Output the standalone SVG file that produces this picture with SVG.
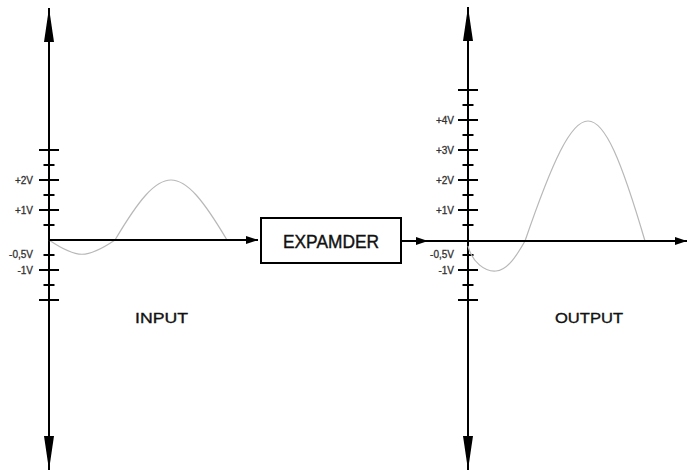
<svg xmlns="http://www.w3.org/2000/svg" width="688" height="470" viewBox="0 0 688 470">
<style>
.axis{stroke:#000;stroke-width:2;fill:none}
.tick{stroke:#000;stroke-width:2}
.wave{stroke:#b8b8b8;stroke-width:1.2;fill:none}
.lbl{font-family:"Liberation Sans",Arial,sans-serif;font-size:10px;fill:#333;stroke:#333;stroke-width:0.3;text-anchor:end}
.title{font-family:"Liberation Sans",Arial,sans-serif;font-size:15px;fill:#111;stroke:#111;stroke-width:0.35;text-anchor:middle}
</style>
<defs>
<marker id="va" viewBox="0 -5.5 34 11" refX="34" refY="0" markerWidth="34" markerHeight="11" markerUnits="userSpaceOnUse" orient="auto-start-reverse"><path d="M0,-5 L34,0 L0,5 z" fill="#000"/></marker>
<marker id="ha" viewBox="0 -4 12 8" refX="12" refY="0" markerWidth="12" markerHeight="8" markerUnits="userSpaceOnUse" orient="auto"><path d="M0,-4 L12,0 L0,4 z" fill="#000"/></marker>
</defs>
<g id="input-graph">
<line class="axis" x1="49" y1="470" x2="49" y2="8" marker-start="url(#va)" marker-end="url(#va)"/>
<g class="tick">
<line x1="39" y1="150" x2="59" y2="150"/><line x1="43.5" y1="165" x2="54.5" y2="165"/>
<line x1="39" y1="180" x2="59" y2="180"/><line x1="43.5" y1="195" x2="54.5" y2="195"/>
<line x1="39" y1="210" x2="59" y2="210"/><line x1="43.5" y1="225" x2="54.5" y2="225"/>
<line x1="43.5" y1="255" x2="54.5" y2="255"/><line x1="39" y1="270" x2="59" y2="270"/>
<line x1="43.5" y1="285" x2="54.5" y2="285"/><line x1="39" y1="300" x2="59" y2="300"/>
</g>
<text class="lbl" x="33" y="183.5">+2V</text>
<text class="lbl" x="33" y="213.5">+1V</text>
<text class="lbl" x="33" y="258">-0,5V</text>
<text class="lbl" x="33" y="273.5">-1V</text>
<path class="wave" d="M49,240 C77,259 87,259 115,240 C162.5,160 179.5,160 227,240"/>
<text class="title" x="161.5" y="323" textLength="53" lengthAdjust="spacingAndGlyphs">INPUT</text>
</g>
<g id="expander">
<rect x="261" y="218" width="140" height="45" fill="#fff" stroke="#000" stroke-width="2"/>
<text x="331" y="247.5" font-family="Liberation Sans,Arial,sans-serif" font-size="18" fill="#111" stroke="#111" stroke-width="0.4" text-anchor="middle" textLength="96" lengthAdjust="spacingAndGlyphs">EXPAMDER</text>
</g>
<g id="output-graph">
<line class="axis" x1="468" y1="470" x2="468" y2="7" marker-start="url(#va)" marker-end="url(#va)"/>
<g class="tick">
<line x1="458" y1="90" x2="478" y2="90"/><line x1="462.5" y1="105" x2="473.5" y2="105"/>
<line x1="458" y1="120" x2="478" y2="120"/><line x1="462.5" y1="135" x2="473.5" y2="135"/>
<line x1="458" y1="150" x2="478" y2="150"/><line x1="462.5" y1="165" x2="473.5" y2="165"/>
<line x1="458" y1="180" x2="478" y2="180"/><line x1="462.5" y1="195" x2="473.5" y2="195"/>
<line x1="458" y1="210" x2="478" y2="210"/><line x1="462.5" y1="225" x2="473.5" y2="225"/>
<line x1="462.5" y1="255" x2="473.5" y2="255"/><line x1="458" y1="270" x2="478" y2="270"/>
<line x1="462.5" y1="285" x2="473.5" y2="285"/><line x1="458" y1="300" x2="478" y2="300"/>
</g>
<text class="lbl" x="454" y="123.5">+4V</text>
<text class="lbl" x="454" y="153.5">+3V</text>
<text class="lbl" x="454" y="183.5">+2V</text>
<text class="lbl" x="454" y="213.5">+1V</text>
<text class="lbl" x="454" y="258">-0,5V</text>
<text class="lbl" x="454" y="273.5">-1V</text>
<path class="wave" d="M468,246 C472,262 485,272 496,271 C508,270 517,255 525,241 C580,81 598,81 645,241"/>
<text class="title" x="589" y="323" textLength="68" lengthAdjust="spacingAndGlyphs">OUTPUT</text>
</g>
<g id="connectors">
<line class="axis" x1="49" y1="240" x2="258" y2="240" marker-end="url(#ha)"/>
<line class="axis" x1="401" y1="241" x2="428" y2="241" marker-end="url(#ha)"/>
<line class="axis" x1="428" y1="241" x2="687" y2="241" marker-end="url(#ha)"/>
</g>
</svg>
